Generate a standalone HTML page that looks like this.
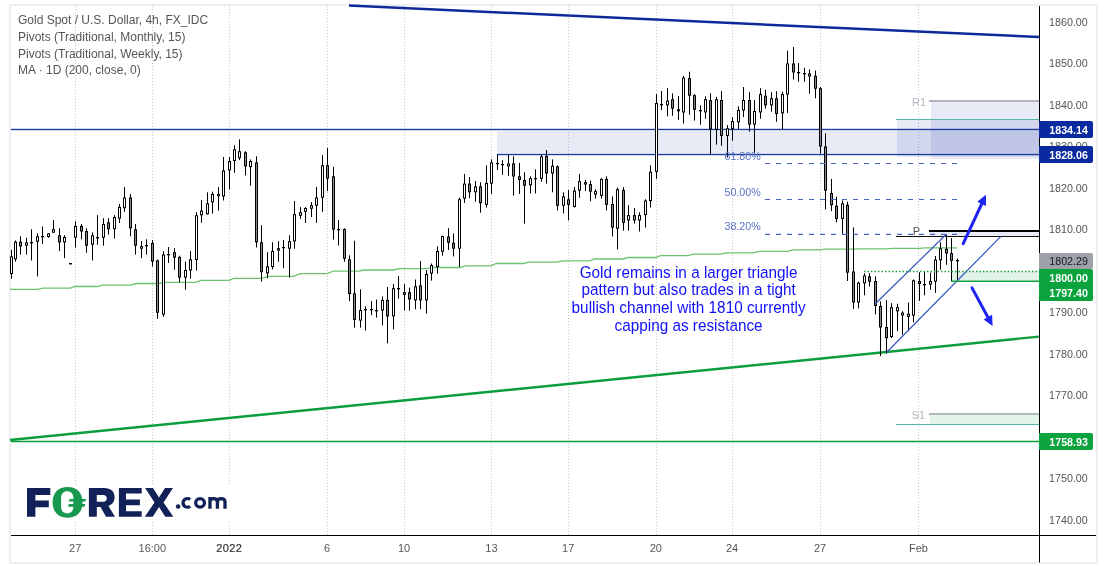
<!DOCTYPE html>
<html><head><meta charset="utf-8"><title>Gold Spot chart</title>
<style>
html,body{margin:0;padding:0;background:#fff;}
body{width:1107px;height:566px;overflow:hidden;position:relative;font-family:"Liberation Sans", sans-serif;}
svg{position:absolute;left:0;top:0;will-change:transform;}
text{font-family:"Liberation Sans", sans-serif;}
</style></head><body>
<svg width="1107" height="566" viewBox="0 0 1107 566">

<rect x="9" y="4" width="1089" height="560" fill="#eceef3"/>
<rect x="11" y="6" width="1085" height="556" fill="#ffffff"/>
<line x1="75.5" y1="6" x2="75.5" y2="535" stroke="#c3c6d1" stroke-width="1" stroke-dasharray="1 2" shape-rendering="crispEdges"/>
<line x1="152.5" y1="6" x2="152.5" y2="535" stroke="#c3c6d1" stroke-width="1" stroke-dasharray="1 2" shape-rendering="crispEdges"/>
<line x1="229.5" y1="6" x2="229.5" y2="535" stroke="#c3c6d1" stroke-width="1" stroke-dasharray="1 2" shape-rendering="crispEdges"/>
<line x1="327.5" y1="6" x2="327.5" y2="535" stroke="#c3c6d1" stroke-width="1" stroke-dasharray="1 2" shape-rendering="crispEdges"/>
<line x1="404.5" y1="6" x2="404.5" y2="535" stroke="#c3c6d1" stroke-width="1" stroke-dasharray="1 2" shape-rendering="crispEdges"/>
<line x1="491.5" y1="6" x2="491.5" y2="535" stroke="#c3c6d1" stroke-width="1" stroke-dasharray="1 2" shape-rendering="crispEdges"/>
<line x1="568.5" y1="6" x2="568.5" y2="535" stroke="#c3c6d1" stroke-width="1" stroke-dasharray="1 2" shape-rendering="crispEdges"/>
<line x1="656.5" y1="6" x2="656.5" y2="535" stroke="#c3c6d1" stroke-width="1" stroke-dasharray="1 2" shape-rendering="crispEdges"/>
<line x1="732.5" y1="6" x2="732.5" y2="535" stroke="#c3c6d1" stroke-width="1" stroke-dasharray="1 2" shape-rendering="crispEdges"/>
<line x1="820.5" y1="6" x2="820.5" y2="535" stroke="#c3c6d1" stroke-width="1" stroke-dasharray="1 2" shape-rendering="crispEdges"/>
<line x1="918.5" y1="6" x2="918.5" y2="535" stroke="#c3c6d1" stroke-width="1" stroke-dasharray="1 2" shape-rendering="crispEdges"/>
<rect x="931" y="102" width="108" height="57" fill="rgba(25,45,165,0.10)"/>
<rect x="897" y="120" width="142" height="37" fill="rgba(25,45,165,0.10)"/>
<rect x="497" y="131" width="542" height="22" fill="rgba(25,45,165,0.10)"/>
<rect x="929" y="232" width="110" height="4" fill="rgba(25,45,165,0.10)"/>
<rect x="930" y="415" width="109" height="9.5" fill="#e3f4e8"/>
<rect x="951" y="271.5" width="88" height="9.7" fill="#e1f3e6"/>
<line x1="929" y1="101" x2="1039" y2="101" stroke="#b2b5be" stroke-width="2"/>
<line x1="896" y1="119.5" x2="1039" y2="119.5" stroke="#50b8ab" stroke-width="1"/>
<line x1="929" y1="414" x2="1039" y2="414" stroke="#b2b5be" stroke-width="2"/>
<line x1="896" y1="424.5" x2="1039" y2="424.5" stroke="#50b8ab" stroke-width="1"/>
<line x1="929" y1="231" x2="1039" y2="231" stroke="#000" stroke-width="2.2"/>
<line x1="896" y1="236.5" x2="1039" y2="236.5" stroke="#111" stroke-width="1.2"/>
<text x="919" y="105.5" font-size="11" fill="#b2b5be" text-anchor="middle">R1</text>
<text x="918.5" y="418.5" font-size="11" fill="#b2b5be" text-anchor="middle">S1</text>
<text x="916.5" y="235.2" font-size="11" fill="#4c4c4c" text-anchor="middle">P</text>
<rect x="11" y="128.8" width="1028" height="1.4" fill="#1a3aa2"/>
<rect x="497" y="153.8" width="542" height="1.4" fill="#1a3aa2"/>
<line x1="11" y1="441.5" x2="1039" y2="441.5" stroke="#0c9d3c" stroke-width="1.4"/>
<polyline fill="none" stroke="#6bc46d" stroke-width="1.3" points="10,289.3 37.4,289.3 43.3,288.2 70.3,288.2 75,286.5 97.3,286.5 102,285.1 130.2,285.1 136.1,283.5 158.4,283.5 165,282.3 196,282.3 200.8,280.4 229,280.4 233.7,278.3 262,278.3 268,276.4 293.3,276.4 300.3,273.6 327.3,273.6 333.2,271.2 359,271.2 364,270 393.2,270 399,268.7 427.3,268.7 432,267.5 460.2,267.5 464.9,265.8 490.7,265.8 496.3,263.5 523.4,263.5 528.8,262.2 556.8,262.2 563.2,260.8 589.4,260.8 594.8,259 622.8,259 628.2,257.5 655.3,257.5 660.7,255.7 688,255.7 693.6,254.1 720.6,254.1 727,252.8 753.2,252.8 759.5,251.4 787.5,251.4 792.9,249.9 820.9,249.9 824.5,249.2 853.4,249.2 858.9,248.8 887,248.8 892,248.3 920,248.3 925,247.8 957,247.8"/>
<line x1="349" y1="5.6" x2="1039" y2="37" stroke="#0d2a9b" stroke-width="2.5"/>
<line x1="10" y1="440" x2="1039" y2="336.6" stroke="#0b9e3a" stroke-width="2.4"/>
<rect x="11" y="249.8" width="1" height="28.9" fill="#000"/><rect x="10" y="256.4" width="3" height="17.6" fill="#000"/><rect x="11" y="257.4" width="1" height="15.6" fill="#fff"/>
<rect x="15" y="240.5" width="1" height="21.1" fill="#000"/><rect x="14" y="241.7" width="3" height="17.6" fill="#000"/><rect x="15" y="242.7" width="1" height="15.6" fill="#fff"/>
<rect x="20" y="236.3" width="1" height="18.3" fill="#000"/><rect x="19" y="241.7" width="3" height="4.7" fill="#000"/><rect x="20" y="242.7" width="1" height="2.7" fill="#868993"/>
<rect x="26" y="237.7" width="1" height="16.9" fill="#000"/><rect x="25" y="242.4" width="3" height="3.3" fill="#000"/><rect x="26" y="243.4" width="1" height="1.3" fill="#fff"/>
<rect x="31" y="229.2" width="1" height="31.3" fill="#000"/><rect x="30" y="242" width="3" height="1.3" fill="#000"/>
<rect x="37" y="233.4" width="1" height="43.0" fill="#000"/><rect x="36" y="236.3" width="3" height="5.4" fill="#000"/><rect x="37" y="237.3" width="1" height="3.4" fill="#fff"/>
<rect x="42" y="226.4" width="1" height="17.6" fill="#000"/><rect x="41" y="236" width="3" height="1.3" fill="#000"/>
<rect x="48" y="233.0" width="1" height="4.7" fill="#000"/><rect x="47" y="233.4" width="3" height="3.6" fill="#000"/><rect x="48" y="234.4" width="1" height="1.6" fill="#fff"/>
<rect x="53" y="220.0" width="1" height="12.7" fill="#000"/><rect x="52" y="229.2" width="3" height="3.5" fill="#000"/><rect x="53" y="230.2" width="1" height="1.5" fill="#fff"/>
<rect x="59" y="228.3" width="1" height="22.8" fill="#000"/><rect x="58" y="235.3" width="3" height="7.1" fill="#000"/><rect x="59" y="236.3" width="1" height="5.1" fill="#868993"/>
<rect x="64" y="235.3" width="1" height="22.8" fill="#000"/><rect x="63" y="237.0" width="3" height="5.4" fill="#000"/><rect x="64" y="238.0" width="1" height="3.4" fill="#fff"/>
<rect x="70" y="263.5" width="1" height="1.0" fill="#000"/><rect x="69" y="263" width="3" height="1.3" fill="#000"/>
<rect x="75" y="221.2" width="1" height="26.3" fill="#000"/><rect x="74" y="225.9" width="3" height="11.8" fill="#000"/><rect x="75" y="226.9" width="1" height="9.8" fill="#fff"/>
<rect x="81" y="224.0" width="1" height="15.3" fill="#000"/><rect x="80" y="225.9" width="3" height="5.6" fill="#000"/><rect x="81" y="226.9" width="1" height="3.6" fill="#868993"/>
<rect x="86" y="228.3" width="1" height="24.4" fill="#000"/><rect x="85" y="231.1" width="3" height="14.6" fill="#000"/><rect x="86" y="232.1" width="1" height="12.6" fill="#868993"/>
<rect x="92" y="232.3" width="1" height="28.2" fill="#000"/><rect x="91" y="235.3" width="3" height="9.4" fill="#000"/><rect x="92" y="236.3" width="1" height="7.4" fill="#fff"/>
<rect x="97" y="215.1" width="1" height="29.6" fill="#000"/><rect x="96" y="237" width="3" height="1.3" fill="#000"/>
<rect x="103" y="218.2" width="1" height="27.5" fill="#000"/><rect x="102" y="224.0" width="3" height="13.7" fill="#000"/><rect x="103" y="225.0" width="1" height="11.7" fill="#fff"/>
<rect x="108" y="218.2" width="1" height="16.4" fill="#000"/><rect x="107" y="222.4" width="3" height="6.8" fill="#000"/><rect x="108" y="223.4" width="1" height="4.8" fill="#868993"/>
<rect x="114" y="215.1" width="1" height="23.5" fill="#000"/><rect x="113" y="217.0" width="3" height="12.2" fill="#000"/><rect x="114" y="218.0" width="1" height="10.2" fill="#fff"/>
<rect x="119" y="204.0" width="1" height="18.9" fill="#000"/><rect x="118" y="206.9" width="3" height="11.7" fill="#000"/><rect x="119" y="207.9" width="1" height="9.7" fill="#fff"/>
<rect x="124" y="187.1" width="1" height="24.7" fill="#000"/><rect x="123" y="197.5" width="3" height="10.8" fill="#000"/><rect x="124" y="198.5" width="1" height="8.8" fill="#fff"/>
<rect x="130" y="193.9" width="1" height="42.4" fill="#000"/><rect x="129" y="197.5" width="3" height="30.8" fill="#000"/><rect x="130" y="198.5" width="1" height="28.8" fill="#868993"/>
<rect x="135" y="224.0" width="1" height="30.6" fill="#000"/><rect x="134" y="229.2" width="3" height="16.5" fill="#000"/><rect x="135" y="230.2" width="1" height="14.5" fill="#868993"/>
<rect x="141" y="241.0" width="1" height="17.1" fill="#000"/><rect x="140" y="246.1" width="3" height="2.6" fill="#000"/><rect x="141" y="247.1" width="1" height="0.6" fill="#fff"/>
<rect x="146" y="239.3" width="1" height="15.3" fill="#000"/><rect x="145" y="245" width="3" height="1.3" fill="#000"/>
<rect x="152" y="240.0" width="1" height="26.5" fill="#000"/><rect x="151" y="243.0" width="3" height="18.6" fill="#000"/><rect x="152" y="244.0" width="1" height="16.6" fill="#868993"/>
<rect x="157" y="259.5" width="1" height="59.2" fill="#000"/><rect x="156" y="260.4" width="3" height="52.4" fill="#000"/><rect x="157" y="261.4" width="1" height="50.4" fill="#868993"/>
<rect x="163" y="251.2" width="1" height="65.6" fill="#000"/><rect x="162" y="254.5" width="3" height="60.2" fill="#000"/><rect x="163" y="255.5" width="1" height="58.2" fill="#fff"/>
<rect x="168" y="247.0" width="1" height="16.0" fill="#000"/><rect x="167" y="254" width="3" height="1.3" fill="#000"/>
<rect x="174" y="248.2" width="1" height="21.6" fill="#000"/><rect x="173" y="252.2" width="3" height="5.4" fill="#000"/><rect x="174" y="253.2" width="1" height="3.4" fill="#868993"/>
<rect x="179" y="255.7" width="1" height="26.6" fill="#000"/><rect x="178" y="256.9" width="3" height="20.7" fill="#000"/><rect x="179" y="257.9" width="1" height="18.7" fill="#868993"/>
<rect x="185" y="261.6" width="1" height="28.2" fill="#000"/><rect x="184" y="270.0" width="3" height="7.6" fill="#000"/><rect x="185" y="271.0" width="1" height="5.6" fill="#fff"/>
<rect x="190" y="251.0" width="1" height="27.7" fill="#000"/><rect x="189" y="259.2" width="3" height="11.3" fill="#000"/><rect x="190" y="260.2" width="1" height="9.3" fill="#fff"/>
<rect x="196" y="212.2" width="1" height="58.3" fill="#000"/><rect x="195" y="215.3" width="3" height="44.7" fill="#000"/><rect x="196" y="216.3" width="1" height="42.7" fill="#fff"/>
<rect x="201" y="200.0" width="1" height="22.8" fill="#000"/><rect x="200" y="210.6" width="3" height="4.7" fill="#000"/><rect x="201" y="211.6" width="1" height="2.7" fill="#fff"/>
<rect x="207" y="192.3" width="1" height="22.3" fill="#000"/><rect x="206" y="203.3" width="3" height="10.9" fill="#000"/><rect x="207" y="204.3" width="1" height="8.9" fill="#fff"/>
<rect x="212" y="191.6" width="1" height="21.9" fill="#000"/><rect x="211" y="193.9" width="3" height="8.5" fill="#000"/><rect x="212" y="194.9" width="1" height="6.5" fill="#fff"/>
<rect x="218" y="187.1" width="1" height="23.5" fill="#000"/><rect x="217" y="193.9" width="3" height="2.4" fill="#000"/><rect x="218" y="194.9" width="1" height="0.4" fill="#fff"/>
<rect x="223" y="157.0" width="1" height="43.5" fill="#000"/><rect x="222" y="170.4" width="3" height="26.1" fill="#000"/><rect x="223" y="171.4" width="1" height="24.1" fill="#fff"/>
<rect x="229" y="157.0" width="1" height="32.5" fill="#000"/><rect x="228" y="161.0" width="3" height="9.4" fill="#000"/><rect x="229" y="162.0" width="1" height="7.4" fill="#fff"/>
<rect x="234" y="145.3" width="1" height="27.5" fill="#000"/><rect x="233" y="149.3" width="3" height="11.7" fill="#000"/><rect x="234" y="150.3" width="1" height="9.7" fill="#fff"/>
<rect x="239" y="139.4" width="1" height="20.7" fill="#000"/><rect x="238" y="151.2" width="3" height="7.0" fill="#000"/><rect x="239" y="152.2" width="1" height="5.0" fill="#fff"/>
<rect x="245" y="151.2" width="1" height="24.2" fill="#000"/><rect x="244" y="152.3" width="3" height="14.1" fill="#000"/><rect x="245" y="153.3" width="1" height="12.1" fill="#868993"/>
<rect x="250" y="159.4" width="1" height="26.3" fill="#000"/><rect x="249" y="161.0" width="3" height="6.1" fill="#000"/><rect x="250" y="162.0" width="1" height="4.1" fill="#fff"/>
<rect x="256" y="156.3" width="1" height="91.2" fill="#000"/><rect x="255" y="162.4" width="3" height="80.0" fill="#000"/><rect x="256" y="163.4" width="1" height="78.0" fill="#868993"/>
<rect x="261" y="225.2" width="1" height="56.4" fill="#000"/><rect x="260" y="242.3" width="3" height="29.9" fill="#000"/><rect x="261" y="243.3" width="1" height="27.9" fill="#868993"/>
<rect x="267" y="252.2" width="1" height="26.1" fill="#000"/><rect x="266" y="266.3" width="3" height="7.1" fill="#000"/><rect x="267" y="267.3" width="1" height="5.1" fill="#fff"/>
<rect x="272" y="242.3" width="1" height="27.1" fill="#000"/><rect x="271" y="251.0" width="3" height="16.0" fill="#000"/><rect x="272" y="252.0" width="1" height="14.0" fill="#fff"/>
<rect x="278" y="241.2" width="1" height="20.6" fill="#000"/><rect x="277" y="248.2" width="3" height="2.4" fill="#000"/><rect x="278" y="249.2" width="1" height="0.4" fill="#fff"/>
<rect x="283" y="240.0" width="1" height="28.2" fill="#000"/><rect x="282" y="247" width="3" height="1.3" fill="#000"/>
<rect x="289" y="235.3" width="1" height="42.3" fill="#000"/><rect x="288" y="241.2" width="3" height="7.5" fill="#000"/><rect x="289" y="242.2" width="1" height="5.5" fill="#fff"/>
<rect x="294" y="201.0" width="1" height="47.7" fill="#000"/><rect x="293" y="214.2" width="3" height="27.2" fill="#000"/><rect x="294" y="215.2" width="1" height="25.2" fill="#fff"/>
<rect x="300" y="207.1" width="1" height="11.8" fill="#000"/><rect x="299" y="212.3" width="3" height="3.5" fill="#000"/><rect x="300" y="213.3" width="1" height="1.5" fill="#fff"/>
<rect x="305" y="207.1" width="1" height="15.8" fill="#000"/><rect x="304" y="208.0" width="3" height="3.8" fill="#000"/><rect x="305" y="209.0" width="1" height="1.8" fill="#fff"/>
<rect x="311" y="202.2" width="1" height="14.8" fill="#000"/><rect x="310" y="205.2" width="3" height="3.5" fill="#000"/><rect x="311" y="206.2" width="1" height="1.5" fill="#fff"/>
<rect x="316" y="186.9" width="1" height="36.0" fill="#000"/><rect x="315" y="197.5" width="3" height="8.2" fill="#000"/><rect x="316" y="198.5" width="1" height="6.2" fill="#fff"/>
<rect x="322" y="155.2" width="1" height="56.6" fill="#000"/><rect x="321" y="165.3" width="3" height="32.4" fill="#000"/><rect x="322" y="166.3" width="1" height="30.4" fill="#fff"/>
<rect x="327" y="148.1" width="1" height="43.0" fill="#000"/><rect x="326" y="165.3" width="3" height="13.4" fill="#000"/><rect x="327" y="166.3" width="1" height="11.4" fill="#868993"/>
<rect x="333" y="166.9" width="1" height="72.7" fill="#000"/><rect x="332" y="176.3" width="3" height="53.3" fill="#000"/><rect x="333" y="177.3" width="1" height="51.3" fill="#868993"/>
<rect x="338" y="220.0" width="1" height="25.6" fill="#000"/><rect x="337" y="229" width="3" height="1.3" fill="#000"/>
<rect x="344" y="228.3" width="1" height="33.4" fill="#000"/><rect x="343" y="229.0" width="3" height="29.8" fill="#000"/><rect x="344" y="230.0" width="1" height="27.8" fill="#868993"/>
<rect x="349" y="255.3" width="1" height="45.8" fill="#000"/><rect x="348" y="259.3" width="3" height="34.7" fill="#000"/><rect x="349" y="260.3" width="1" height="32.7" fill="#868993"/>
<rect x="354" y="240.7" width="1" height="87.0" fill="#000"/><rect x="353" y="293.3" width="3" height="26.6" fill="#000"/><rect x="354" y="294.3" width="1" height="24.6" fill="#868993"/>
<rect x="360" y="289.3" width="1" height="38.4" fill="#000"/><rect x="359" y="310.0" width="3" height="10.6" fill="#000"/><rect x="360" y="311.0" width="1" height="8.6" fill="#fff"/>
<rect x="365" y="306.3" width="1" height="24.2" fill="#000"/><rect x="364" y="309" width="3" height="1.3" fill="#000"/>
<rect x="371" y="301.1" width="1" height="14.1" fill="#000"/><rect x="370" y="309" width="3" height="1.3" fill="#000"/>
<rect x="376" y="299.5" width="1" height="18.1" fill="#000"/><rect x="375" y="310" width="3" height="1.3" fill="#000"/>
<rect x="382" y="296.4" width="1" height="28.9" fill="#000"/><rect x="381" y="299.9" width="3" height="10.6" fill="#000"/><rect x="382" y="300.9" width="1" height="8.6" fill="#fff"/>
<rect x="387" y="287.0" width="1" height="56.4" fill="#000"/><rect x="386" y="299.9" width="3" height="16.5" fill="#000"/><rect x="387" y="300.9" width="1" height="14.5" fill="#868993"/>
<rect x="393" y="283.9" width="1" height="45.4" fill="#000"/><rect x="392" y="288.2" width="3" height="28.2" fill="#000"/><rect x="393" y="289.2" width="1" height="26.2" fill="#fff"/>
<rect x="398" y="276.0" width="1" height="22.7" fill="#000"/><rect x="397" y="288" width="3" height="1.3" fill="#000"/>
<rect x="404" y="283.9" width="1" height="26.6" fill="#000"/><rect x="403" y="292.2" width="3" height="2.6" fill="#000"/><rect x="404" y="293.2" width="1" height="0.6" fill="#fff"/>
<rect x="409" y="287.7" width="1" height="22.8" fill="#000"/><rect x="408" y="292.2" width="3" height="7.3" fill="#000"/><rect x="409" y="293.2" width="1" height="5.3" fill="#868993"/>
<rect x="415" y="279.5" width="1" height="29.8" fill="#000"/><rect x="414" y="286.3" width="3" height="14.1" fill="#000"/><rect x="415" y="287.3" width="1" height="12.1" fill="#fff"/>
<rect x="420" y="261.1" width="1" height="48.2" fill="#000"/><rect x="419" y="285.4" width="3" height="15.0" fill="#000"/><rect x="420" y="286.4" width="1" height="13.0" fill="#868993"/>
<rect x="426" y="270.0" width="1" height="43.6" fill="#000"/><rect x="425" y="274.0" width="3" height="26.4" fill="#000"/><rect x="426" y="275.0" width="1" height="24.4" fill="#fff"/>
<rect x="431" y="263.5" width="1" height="17.1" fill="#000"/><rect x="430" y="265.1" width="3" height="8.5" fill="#000"/><rect x="431" y="266.1" width="1" height="6.5" fill="#fff"/>
<rect x="437" y="246.3" width="1" height="27.3" fill="#000"/><rect x="436" y="251.0" width="3" height="16.0" fill="#000"/><rect x="437" y="252.0" width="1" height="14.0" fill="#fff"/>
<rect x="442" y="235.7" width="1" height="20.0" fill="#000"/><rect x="441" y="236.0" width="3" height="15.7" fill="#000"/><rect x="442" y="237.0" width="1" height="13.7" fill="#fff"/>
<rect x="448" y="228.2" width="1" height="21.7" fill="#000"/><rect x="447" y="236.5" width="3" height="6.3" fill="#000"/><rect x="448" y="237.5" width="1" height="4.3" fill="#868993"/>
<rect x="453" y="233.4" width="1" height="23.0" fill="#000"/><rect x="452" y="242.8" width="3" height="5.9" fill="#000"/><rect x="453" y="243.8" width="1" height="3.9" fill="#868993"/>
<rect x="459" y="197.7" width="1" height="69.3" fill="#000"/><rect x="458" y="199.3" width="3" height="49.4" fill="#000"/><rect x="459" y="200.3" width="1" height="47.4" fill="#fff"/>
<rect x="464" y="174.0" width="1" height="28.9" fill="#000"/><rect x="463" y="183.6" width="3" height="15.0" fill="#000"/><rect x="464" y="184.6" width="1" height="13.0" fill="#fff"/>
<rect x="469" y="177.0" width="1" height="21.2" fill="#000"/><rect x="468" y="183.6" width="3" height="8.7" fill="#000"/><rect x="469" y="184.6" width="1" height="6.7" fill="#868993"/>
<rect x="475" y="181.0" width="1" height="20.7" fill="#000"/><rect x="474" y="186.4" width="3" height="5.9" fill="#000"/><rect x="475" y="187.4" width="1" height="3.9" fill="#fff"/>
<rect x="480" y="182.2" width="1" height="30.5" fill="#000"/><rect x="479" y="186.4" width="3" height="16.9" fill="#000"/><rect x="480" y="187.4" width="1" height="14.9" fill="#868993"/>
<rect x="486" y="165.3" width="1" height="42.3" fill="#000"/><rect x="485" y="182.9" width="3" height="21.9" fill="#000"/><rect x="486" y="183.9" width="1" height="19.9" fill="#fff"/>
<rect x="491" y="159.4" width="1" height="34.5" fill="#000"/><rect x="490" y="162.4" width="3" height="21.2" fill="#000"/><rect x="491" y="163.4" width="1" height="19.2" fill="#fff"/>
<rect x="497" y="154.7" width="1" height="15.3" fill="#000"/><rect x="496" y="163" width="3" height="1.3" fill="#000"/>
<rect x="502" y="160.1" width="1" height="14.6" fill="#000"/><rect x="501" y="164" width="3" height="1.3" fill="#000"/>
<rect x="508" y="154.7" width="1" height="21.1" fill="#000"/><rect x="507" y="163.4" width="3" height="3.0" fill="#000"/><rect x="508" y="164.4" width="1" height="1.0" fill="#fff"/>
<rect x="513" y="156.3" width="1" height="39.3" fill="#000"/><rect x="512" y="163.4" width="3" height="13.1" fill="#000"/><rect x="513" y="164.4" width="1" height="11.1" fill="#868993"/>
<rect x="519" y="162.9" width="1" height="31.1" fill="#000"/><rect x="518" y="176.3" width="3" height="3.7" fill="#000"/><rect x="519" y="177.3" width="1" height="1.7" fill="#868993"/>
<rect x="524" y="172.3" width="1" height="51.3" fill="#000"/><rect x="523" y="180.0" width="3" height="5.7" fill="#000"/><rect x="524" y="181.0" width="1" height="3.7" fill="#868993"/>
<rect x="530" y="176.3" width="1" height="17.2" fill="#000"/><rect x="529" y="178.2" width="3" height="7.0" fill="#000"/><rect x="530" y="179.2" width="1" height="5.0" fill="#fff"/>
<rect x="535" y="169.3" width="1" height="24.2" fill="#000"/><rect x="534" y="178" width="3" height="1.3" fill="#000"/>
<rect x="541" y="154.7" width="1" height="27.0" fill="#000"/><rect x="540" y="156.3" width="3" height="22.4" fill="#000"/><rect x="541" y="157.3" width="1" height="20.4" fill="#fff"/>
<rect x="546" y="150.0" width="1" height="33.6" fill="#000"/><rect x="545" y="155.9" width="3" height="17.6" fill="#000"/><rect x="546" y="156.9" width="1" height="15.6" fill="#868993"/>
<rect x="552" y="159.4" width="1" height="32.9" fill="#000"/><rect x="551" y="165.7" width="3" height="7.8" fill="#000"/><rect x="552" y="166.7" width="1" height="5.8" fill="#fff"/>
<rect x="557" y="165.3" width="1" height="45.1" fill="#000"/><rect x="556" y="166.4" width="3" height="39.3" fill="#000"/><rect x="557" y="167.4" width="1" height="37.3" fill="#868993"/>
<rect x="563" y="192.3" width="1" height="21.2" fill="#000"/><rect x="562" y="196.3" width="3" height="9.4" fill="#000"/><rect x="563" y="197.3" width="1" height="7.4" fill="#fff"/>
<rect x="568" y="190.0" width="1" height="30.5" fill="#000"/><rect x="567" y="199.3" width="3" height="5.5" fill="#000"/><rect x="568" y="200.3" width="1" height="3.5" fill="#868993"/>
<rect x="574" y="186.9" width="1" height="20.7" fill="#000"/><rect x="573" y="190.6" width="3" height="16.3" fill="#000"/><rect x="574" y="191.6" width="1" height="14.3" fill="#fff"/>
<rect x="579" y="174.0" width="1" height="23.7" fill="#000"/><rect x="578" y="181.2" width="3" height="9.4" fill="#000"/><rect x="579" y="182.2" width="1" height="7.4" fill="#fff"/>
<rect x="585" y="180.0" width="1" height="11.1" fill="#000"/><rect x="584" y="182.2" width="3" height="2.3" fill="#000"/><rect x="585" y="183.2" width="1" height="0.3" fill="#fff"/>
<rect x="590" y="180.5" width="1" height="20.7" fill="#000"/><rect x="589" y="184.1" width="3" height="7.5" fill="#000"/><rect x="590" y="185.1" width="1" height="5.5" fill="#868993"/>
<rect x="595" y="189.2" width="1" height="9.4" fill="#000"/><rect x="594" y="191.1" width="3" height="3.5" fill="#000"/><rect x="595" y="192.1" width="1" height="1.5" fill="#fff"/>
<rect x="601" y="178.2" width="1" height="20.4" fill="#000"/><rect x="600" y="178.9" width="3" height="16.9" fill="#000"/><rect x="601" y="179.9" width="1" height="14.9" fill="#fff"/>
<rect x="606" y="176.3" width="1" height="34.1" fill="#000"/><rect x="605" y="178.9" width="3" height="25.9" fill="#000"/><rect x="606" y="179.9" width="1" height="23.9" fill="#868993"/>
<rect x="612" y="196.5" width="1" height="40.0" fill="#000"/><rect x="611" y="204.0" width="3" height="23.6" fill="#000"/><rect x="612" y="205.0" width="1" height="21.6" fill="#868993"/>
<rect x="617" y="187.6" width="1" height="61.8" fill="#000"/><rect x="616" y="189.2" width="3" height="39.5" fill="#000"/><rect x="617" y="190.2" width="1" height="37.5" fill="#fff"/>
<rect x="623" y="187.1" width="1" height="43.5" fill="#000"/><rect x="622" y="190.0" width="3" height="32.9" fill="#000"/><rect x="623" y="191.0" width="1" height="30.9" fill="#868993"/>
<rect x="628" y="205.2" width="1" height="25.4" fill="#000"/><rect x="627" y="215.1" width="3" height="5.4" fill="#000"/><rect x="628" y="216.1" width="1" height="3.4" fill="#fff"/>
<rect x="634" y="208.0" width="1" height="15.6" fill="#000"/><rect x="633" y="215.1" width="3" height="5.4" fill="#000"/><rect x="634" y="216.1" width="1" height="3.4" fill="#868993"/>
<rect x="639" y="212.3" width="1" height="19.2" fill="#000"/><rect x="638" y="215.1" width="3" height="5.4" fill="#000"/><rect x="639" y="216.1" width="1" height="3.4" fill="#fff"/>
<rect x="645" y="199.3" width="1" height="28.3" fill="#000"/><rect x="644" y="200.5" width="3" height="14.6" fill="#000"/><rect x="645" y="201.5" width="1" height="12.6" fill="#fff"/>
<rect x="650" y="165.3" width="1" height="42.3" fill="#000"/><rect x="649" y="171.8" width="3" height="29.2" fill="#000"/><rect x="650" y="172.8" width="1" height="27.2" fill="#fff"/>
<rect x="656" y="94.1" width="1" height="84.8" fill="#000"/><rect x="655" y="103.0" width="3" height="68.8" fill="#000"/><rect x="656" y="104.0" width="1" height="66.8" fill="#fff"/>
<rect x="661" y="91.0" width="1" height="19.0" fill="#000"/><rect x="660" y="104" width="3" height="1.3" fill="#000"/>
<rect x="667" y="88.2" width="1" height="28.2" fill="#000"/><rect x="666" y="100.6" width="3" height="4.8" fill="#000"/><rect x="667" y="101.6" width="1" height="2.8" fill="#fff"/>
<rect x="672" y="93.4" width="1" height="22.3" fill="#000"/><rect x="671" y="99.2" width="3" height="9.4" fill="#000"/><rect x="672" y="100.2" width="1" height="7.4" fill="#868993"/>
<rect x="678" y="96.0" width="1" height="23.9" fill="#000"/><rect x="677" y="109.3" width="3" height="2.0" fill="#000"/>
<rect x="683" y="76.0" width="1" height="47.5" fill="#000"/><rect x="682" y="77.6" width="3" height="34.8" fill="#000"/><rect x="683" y="78.6" width="1" height="32.8" fill="#fff"/>
<rect x="689" y="71.7" width="1" height="43.1" fill="#000"/><rect x="688" y="78.1" width="3" height="17.6" fill="#000"/><rect x="689" y="79.1" width="1" height="15.6" fill="#868993"/>
<rect x="694" y="94.1" width="1" height="26.5" fill="#000"/><rect x="693" y="95.2" width="3" height="14.6" fill="#000"/><rect x="694" y="96.2" width="1" height="12.6" fill="#868993"/>
<rect x="700" y="105.4" width="1" height="19.2" fill="#000"/><rect x="699" y="110" width="3" height="1.3" fill="#000"/>
<rect x="705" y="96.4" width="1" height="22.3" fill="#000"/><rect x="704" y="99.2" width="3" height="13.2" fill="#000"/><rect x="705" y="100.2" width="1" height="11.2" fill="#fff"/>
<rect x="710" y="93.2" width="1" height="60.7" fill="#000"/><rect x="709" y="100.2" width="3" height="29.2" fill="#000"/><rect x="710" y="101.2" width="1" height="27.2" fill="#868993"/>
<rect x="716" y="96.9" width="1" height="47.7" fill="#000"/><rect x="715" y="99.2" width="3" height="30.6" fill="#000"/><rect x="716" y="100.2" width="1" height="28.6" fill="#fff"/>
<rect x="721" y="91.0" width="1" height="54.8" fill="#000"/><rect x="720" y="100.0" width="3" height="35.9" fill="#000"/><rect x="721" y="101.0" width="1" height="33.9" fill="#868993"/>
<rect x="727" y="125.1" width="1" height="32.4" fill="#000"/><rect x="726" y="128.2" width="3" height="7.7" fill="#000"/><rect x="727" y="129.2" width="1" height="5.7" fill="#fff"/>
<rect x="732" y="117.1" width="1" height="23.5" fill="#000"/><rect x="731" y="121.1" width="3" height="7.8" fill="#000"/><rect x="732" y="122.1" width="1" height="5.8" fill="#fff"/>
<rect x="738" y="106.3" width="1" height="22.6" fill="#000"/><rect x="737" y="110.0" width="3" height="12.3" fill="#000"/><rect x="738" y="111.0" width="1" height="10.3" fill="#fff"/>
<rect x="743" y="87.0" width="1" height="30.1" fill="#000"/><rect x="742" y="100.0" width="3" height="10.5" fill="#000"/><rect x="743" y="101.0" width="1" height="8.5" fill="#fff"/>
<rect x="749" y="92.2" width="1" height="39.5" fill="#000"/><rect x="748" y="100.0" width="3" height="24.6" fill="#000"/><rect x="749" y="101.0" width="1" height="22.6" fill="#868993"/>
<rect x="754" y="100.0" width="1" height="52.8" fill="#000"/><rect x="753" y="111.0" width="3" height="13.6" fill="#000"/><rect x="754" y="112.0" width="1" height="11.6" fill="#fff"/>
<rect x="760" y="88.2" width="1" height="30.5" fill="#000"/><rect x="759" y="94.1" width="3" height="18.3" fill="#000"/><rect x="760" y="95.1" width="1" height="16.3" fill="#fff"/>
<rect x="765" y="89.8" width="1" height="18.8" fill="#000"/><rect x="764" y="95.7" width="3" height="9.7" fill="#000"/><rect x="765" y="96.7" width="1" height="7.7" fill="#868993"/>
<rect x="771" y="92.2" width="1" height="19.5" fill="#000"/><rect x="770" y="98.3" width="3" height="7.1" fill="#000"/><rect x="771" y="99.3" width="1" height="5.1" fill="#fff"/>
<rect x="776" y="91.2" width="1" height="30.6" fill="#000"/><rect x="775" y="98.3" width="3" height="15.7" fill="#000"/><rect x="776" y="99.3" width="1" height="13.7" fill="#868993"/>
<rect x="782" y="91.7" width="1" height="37.6" fill="#000"/><rect x="781" y="94.1" width="3" height="19.2" fill="#000"/><rect x="782" y="95.1" width="1" height="17.2" fill="#fff"/>
<rect x="787" y="50.6" width="1" height="62.3" fill="#000"/><rect x="786" y="63.5" width="3" height="31.0" fill="#000"/><rect x="787" y="64.5" width="1" height="29.0" fill="#fff"/>
<rect x="793" y="47.0" width="1" height="32.5" fill="#000"/><rect x="792" y="63.5" width="3" height="8.9" fill="#000"/><rect x="793" y="64.5" width="1" height="6.9" fill="#868993"/>
<rect x="798" y="63.0" width="1" height="18.8" fill="#000"/><rect x="797" y="72" width="3" height="1.3" fill="#000"/>
<rect x="804" y="67.7" width="1" height="14.1" fill="#000"/><rect x="803" y="73" width="3" height="1.3" fill="#000"/>
<rect x="809" y="69.4" width="1" height="24.2" fill="#000"/><rect x="808" y="73.4" width="3" height="3.0" fill="#000"/><rect x="809" y="74.4" width="1" height="1.0" fill="#fff"/>
<rect x="815" y="70.6" width="1" height="27.7" fill="#000"/><rect x="814" y="75.7" width="3" height="13.0" fill="#000"/><rect x="815" y="76.7" width="1" height="11.0" fill="#868993"/>
<rect x="820" y="87.0" width="1" height="66.5" fill="#000"/><rect x="819" y="88.2" width="3" height="58.3" fill="#000"/><rect x="820" y="89.2" width="1" height="56.3" fill="#868993"/>
<rect x="825" y="133.5" width="1" height="76.0" fill="#000"/><rect x="824" y="146.5" width="3" height="44.1" fill="#000"/><rect x="825" y="147.5" width="1" height="42.1" fill="#868993"/>
<rect x="831" y="178.9" width="1" height="32.2" fill="#000"/><rect x="830" y="193.0" width="3" height="12.2" fill="#000"/><rect x="831" y="194.0" width="1" height="10.2" fill="#868993"/>
<rect x="836" y="196.5" width="1" height="25.9" fill="#000"/><rect x="835" y="205.7" width="3" height="13.2" fill="#000"/><rect x="836" y="206.7" width="1" height="11.2" fill="#868993"/>
<rect x="842" y="200.5" width="1" height="34.1" fill="#000"/><rect x="841" y="203.3" width="3" height="15.6" fill="#000"/><rect x="842" y="204.3" width="1" height="13.6" fill="#fff"/>
<rect x="847" y="201.7" width="1" height="79.3" fill="#000"/><rect x="846" y="204.8" width="3" height="67.9" fill="#000"/><rect x="847" y="205.8" width="1" height="65.9" fill="#868993"/>
<rect x="853" y="227.4" width="1" height="81.5" fill="#000"/><rect x="852" y="271.5" width="3" height="31.0" fill="#000"/><rect x="853" y="272.5" width="1" height="29.0" fill="#868993"/>
<rect x="858" y="281.7" width="1" height="26.7" fill="#000"/><rect x="857" y="282.7" width="3" height="19.8" fill="#000"/><rect x="858" y="283.7" width="1" height="17.8" fill="#fff"/>
<rect x="864" y="273.2" width="1" height="22.1" fill="#000"/><rect x="863" y="275.5" width="3" height="7.9" fill="#000"/><rect x="864" y="276.5" width="1" height="5.9" fill="#fff"/>
<rect x="869" y="273.2" width="1" height="13.3" fill="#000"/><rect x="868" y="276.3" width="3" height="5.4" fill="#000"/><rect x="869" y="277.3" width="1" height="3.4" fill="#868993"/>
<rect x="875" y="276.3" width="1" height="38.1" fill="#000"/><rect x="874" y="281.0" width="3" height="25.0" fill="#000"/><rect x="875" y="282.0" width="1" height="23.0" fill="#868993"/>
<rect x="880" y="301.3" width="1" height="54.8" fill="#000"/><rect x="879" y="306.0" width="3" height="21.5" fill="#000"/><rect x="880" y="307.0" width="1" height="19.5" fill="#868993"/>
<rect x="886" y="300.1" width="1" height="53.6" fill="#000"/><rect x="885" y="327.0" width="3" height="11.2" fill="#000"/><rect x="886" y="328.0" width="1" height="9.2" fill="#868993"/>
<rect x="891" y="303.2" width="1" height="35.0" fill="#000"/><rect x="890" y="307.2" width="3" height="29.8" fill="#000"/><rect x="891" y="308.2" width="1" height="27.8" fill="#fff"/>
<rect x="897" y="303.7" width="1" height="27.4" fill="#000"/><rect x="896" y="307.2" width="3" height="4.1" fill="#000"/><rect x="897" y="308.2" width="1" height="2.1" fill="#fff"/>
<rect x="902" y="311.3" width="1" height="23.4" fill="#000"/><rect x="901" y="312.7" width="3" height="2.9" fill="#000"/><rect x="902" y="313.7" width="1" height="0.9" fill="#fff"/>
<rect x="908" y="302.5" width="1" height="28.6" fill="#000"/><rect x="907" y="313.7" width="3" height="3.1" fill="#000"/><rect x="908" y="314.7" width="1" height="1.1" fill="#fff"/>
<rect x="913" y="279.4" width="1" height="42.9" fill="#000"/><rect x="912" y="280.3" width="3" height="35.3" fill="#000"/><rect x="913" y="281.3" width="1" height="33.3" fill="#fff"/>
<rect x="919" y="272.2" width="1" height="28.6" fill="#000"/><rect x="918" y="281.0" width="3" height="3.1" fill="#000"/><rect x="919" y="282.0" width="1" height="1.1" fill="#868993"/>
<rect x="924" y="271.5" width="1" height="23.8" fill="#000"/><rect x="923" y="284" width="3" height="1.3" fill="#000"/>
<rect x="930" y="272.7" width="1" height="17.1" fill="#000"/><rect x="929" y="281.0" width="3" height="3.6" fill="#000"/><rect x="930" y="282.0" width="1" height="1.6" fill="#fff"/>
<rect x="935" y="256.0" width="1" height="36.9" fill="#000"/><rect x="934" y="259.6" width="3" height="22.1" fill="#000"/><rect x="935" y="260.6" width="1" height="20.1" fill="#fff"/>
<rect x="940" y="242.2" width="1" height="27.6" fill="#000"/><rect x="939" y="248.4" width="3" height="11.9" fill="#000"/><rect x="940" y="249.4" width="1" height="9.9" fill="#fff"/>
<rect x="946" y="234.5" width="1" height="30.3" fill="#000"/><rect x="945" y="248.8" width="3" height="4.8" fill="#000"/><rect x="946" y="249.8" width="1" height="2.8" fill="#868993"/>
<rect x="951" y="238.1" width="1" height="42.9" fill="#000"/><rect x="950" y="253.1" width="3" height="7.7" fill="#000"/><rect x="951" y="254.1" width="1" height="5.7" fill="#868993"/>
<rect x="957" y="258.4" width="1" height="22.6" fill="#000"/><rect x="956" y="260" width="3" height="1.3" fill="#000"/>
<line x1="765" y1="163.5" x2="958" y2="163.5" stroke="#4565c0" stroke-width="1.2" stroke-dasharray="5 6"/>
<line x1="765" y1="199.5" x2="958" y2="199.5" stroke="#4565c0" stroke-width="1.2" stroke-dasharray="5 6"/>
<line x1="765" y1="234.3" x2="958" y2="234.3" stroke="#4565c0" stroke-width="1.2" stroke-dasharray="5 6"/>
<text x="760.7" y="159.8" font-size="10.7" fill="#5a72c4" text-anchor="end">61.80%</text>
<text x="760.7" y="196.2" font-size="10.7" fill="#5a72c4" text-anchor="end">50.00%</text>
<text x="760.7" y="230.3" font-size="10.7" fill="#5a72c4" text-anchor="end">38.20%</text>
<line x1="875.3" y1="303.7" x2="946.1" y2="234.5" stroke="#3454c0" stroke-width="1.2"/>
<line x1="886.5" y1="352.5" x2="1000.9" y2="236.4" stroke="#3454c0" stroke-width="1.2"/>
<line x1="864" y1="271.5" x2="1039" y2="271.5" stroke="#17a33f" stroke-width="1.3" stroke-dasharray="1.5 2"/>
<line x1="951" y1="281.2" x2="1039" y2="281.2" stroke="#17a33f" stroke-width="1.6"/>
<line x1="963.2" y1="243.6" x2="982.1" y2="203.0" stroke="#1c24f2" stroke-width="3" stroke-linecap="round"/><polygon points="985.9,194.8 986.0,205.9 977.3,201.8" fill="#1c24f2"/>
<line x1="972" y1="287.9" x2="988.3" y2="318.0" stroke="#1c24f2" stroke-width="3" stroke-linecap="round"/><polygon points="992.6,325.9 983.6,319.4 992.1,314.8" fill="#1c24f2"/>
<rect x="1039" y="6" width="1" height="556.5" fill="#000"/>
<rect x="11" y="535" width="1085" height="1" fill="#000"/>
<text x="1087.7" y="26.1" font-size="10.7" fill="#555" text-anchor="end">1860.00</text>
<text x="1087.7" y="67.1" font-size="10.7" fill="#555" text-anchor="end">1850.00</text>
<text x="1087.7" y="109.1" font-size="10.7" fill="#555" text-anchor="end">1840.00</text>
<text x="1087.7" y="150.1" font-size="10.7" fill="#555" text-anchor="end">1830.00</text>
<text x="1087.7" y="192.1" font-size="10.7" fill="#555" text-anchor="end">1820.00</text>
<text x="1087.7" y="233.1" font-size="10.7" fill="#555" text-anchor="end">1810.00</text>
<text x="1087.7" y="316.1" font-size="10.7" fill="#555" text-anchor="end">1790.00</text>
<text x="1087.7" y="358.1" font-size="10.7" fill="#555" text-anchor="end">1780.00</text>
<text x="1087.7" y="399.1" font-size="10.7" fill="#555" text-anchor="end">1770.00</text>
<text x="1087.7" y="482.1" font-size="10.7" fill="#555" text-anchor="end">1750.00</text>
<text x="1087.7" y="524.1" font-size="10.7" fill="#555" text-anchor="end">1740.00</text>
<path d="M1039,121 H1091 a2,2 0 0 1 2,2 V136 a2,2 0 0 1 -2,2 H1039 Z" fill="#0c2aa0"/><text x="1087.9" y="133.6" font-size="10.7" fill="#fff" text-anchor="end" font-weight="bold">1834.14</text>
<path d="M1039,146 H1091 a2,2 0 0 1 2,2 V161 a2,2 0 0 1 -2,2 H1039 Z" fill="#0c2aa0"/><text x="1087.9" y="158.6" font-size="10.7" fill="#fff" text-anchor="end" font-weight="bold">1828.06</text>
<path d="M1039,253 H1091 a2,2 0 0 1 2,2 V267 a2,2 0 0 1 -2,2 H1039 Z" fill="#9fa1a9"/><text x="1087.9" y="265.3" font-size="10.7" fill="#131722" text-anchor="end">1802.29</text>
<path d="M1039,269 H1091 a2,2 0 0 1 2,2 V299 a2,2 0 0 1 -2,2 H1039 Z" fill="#0aa33d"/><text x="1087.9" y="281.6" font-size="10.7" fill="#fff" text-anchor="end" font-weight="bold">1800.00</text><text x="1087.9" y="296.8" font-size="10.7" fill="#fff" text-anchor="end" font-weight="bold">1797.40</text>
<path d="M1039,433 H1091 a2,2 0 0 1 2,2 V448 a2,2 0 0 1 -2,2 H1039 Z" fill="#0aa33d"/><text x="1087.9" y="445.6" font-size="10.7" fill="#fff" text-anchor="end" font-weight="bold">1758.93</text>
<text x="75.2" y="552.3" font-size="11" fill="#555" text-anchor="middle">27</text>
<text x="152.3" y="552.3" font-size="11" fill="#555" text-anchor="middle">16:00</text>
<text x="229.3" y="552.3" font-size="11" fill="#333" text-anchor="middle" stroke="#333" stroke-width="0.2" letter-spacing="0.35">2022</text>
<text x="327" y="552.3" font-size="11" fill="#555" text-anchor="middle">6</text>
<text x="404" y="552.3" font-size="11" fill="#555" text-anchor="middle">10</text>
<text x="491.4" y="552.3" font-size="11" fill="#555" text-anchor="middle">13</text>
<text x="568.2" y="552.3" font-size="11" fill="#555" text-anchor="middle">17</text>
<text x="655.8" y="552.3" font-size="11" fill="#555" text-anchor="middle">20</text>
<text x="732.1" y="552.3" font-size="11" fill="#555" text-anchor="middle">24</text>
<text x="820" y="552.3" font-size="11" fill="#555" text-anchor="middle">27</text>
<text x="918.5" y="552.3" font-size="11" fill="#555" text-anchor="middle">Feb</text>
<text x="18" y="24" font-size="12" fill="#555">Gold Spot / U.S. Dollar, 4h, FX_IDC</text>
<text x="18" y="41" font-size="12" fill="#555">Pivots (Traditional, Monthly, 15)</text>
<text x="18" y="57.7" font-size="12" fill="#555">Pivots (Traditional, Weekly, 15)</text>
<text x="18" y="74.2" font-size="12" fill="#555">MA · 1D (200, close, 0)</text>
<text x="0" y="277.8" font-size="16.8" fill="#1010f6" text-anchor="middle" transform="translate(688.6,0) scale(0.912,1)">Gold remains in a larger triangle</text>
<text x="0" y="295.4" font-size="16.8" fill="#1010f6" text-anchor="middle" transform="translate(688.6,0) scale(0.912,1)">pattern but also trades in a tight</text>
<text x="0" y="313.2" font-size="16.8" fill="#1010f6" text-anchor="middle" transform="translate(688.6,0) scale(0.912,1)">bullish channel with 1810 currently</text>
<text x="0" y="331.3" font-size="16.8" fill="#1010f6" text-anchor="middle" transform="translate(688.6,0) scale(0.912,1)">capping as resistance</text>
<rect x="20" y="484.5" width="220" height="36" fill="#fff"/>
<path d="M27,488 H50.3 V494.9 H35.4 V500.4 H48.8 V507.3 H35.4 V516.8 H27 Z" fill="#132159"/>
<path fill-rule="evenodd" d="M52.60,502.35 C52.60,492.83 58.30,487.00 67.60,487.00 C76.90,487.00 82.60,492.83 82.60,502.35 C82.60,511.87 76.90,517.70 67.60,517.70 C58.30,517.70 52.60,511.87 52.60,502.35 Z M61.1,497.6 C61.1,493.6 63.9,491.2 67.25,491.2 C70.6,491.2 73.4,493.6 73.4,497.6 V507 C73.4,511 70.6,513.4 67.25,513.4 C63.9,513.4 61.1,511 61.1,507 Z" fill="#18994f"/>
<path d="M69.6,499 H86.1 L85.3,501.6 H68.8 Z M68.8,503.9 H85.3 L84.5,506.7 H68 Z" fill="#18994f"/>
<path fill-rule="evenodd" d="M88.9,488 H104 C111,488 114.6,491.5 114.6,497.3 C114.6,501.5 112.3,504.6 108.5,506 L115,516.8 H106 L100.5,507 H96.8 V516.8 H88.9 Z M96.8,494.9 V501.7 H103.5 C105.5,501.7 106.8,500.3 106.8,498.3 C106.8,496.3 105.5,494.9 103.5,494.9 Z" fill="#132159"/>
<path d="M118.9,488 H141.7 V493.6 H126 V499.6 H139.9 V505.2 H126 V511.2 H141.7 V516.8 H118.9 Z" fill="#132159"/>
<path d="M145.1,488 H153 L159,497.5 L165,488 H173 L163.5,502.4 L173.3,516.8 H165.3 L159,507 L152.7,516.8 H144.8 L154.5,502.4 Z" fill="#132159"/>
<circle cx="178.1" cy="506.5" r="2.25" fill="#132159"/>
<path d="M190.1,499.6 A4.3,4.3 0 1 0 190.1,506.2" fill="none" stroke="#132159" stroke-width="3.3"/>
<ellipse cx="200.05" cy="502.85" rx="4.4" ry="4.25" fill="none" stroke="#132159" stroke-width="3.3"/>
<path d="M209.95,497 V508.8 M209.95,501.8 C209.95,499.3 211.6,498.65 213.6,498.65 C215.7,498.65 217.4,499.5 217.4,501.9 V508.8 M217.4,501.9 C217.4,499.4 219.1,498.65 221.1,498.65 C223.2,498.65 225,499.5 225,502.1 V508.8" fill="none" stroke="#132159" stroke-width="3.3"/>
</svg></body></html>
